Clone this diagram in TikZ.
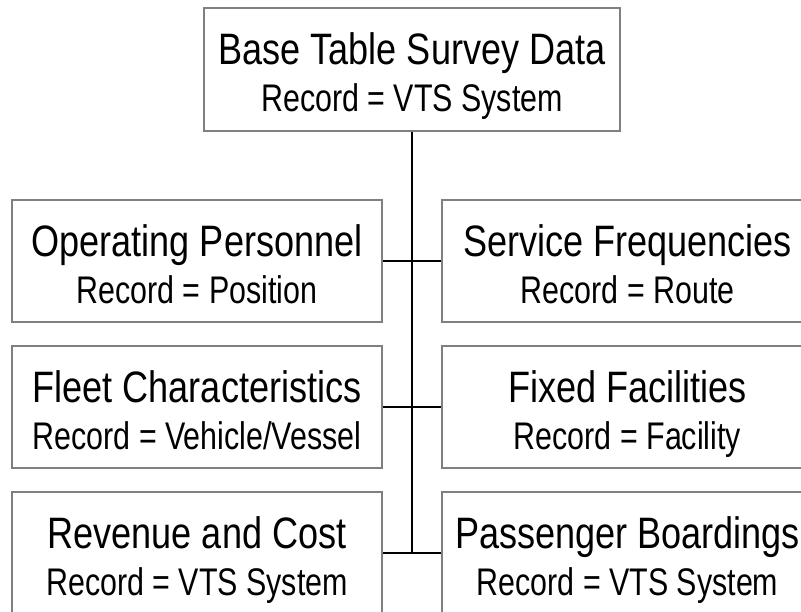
\documentclass[tikz,border=0pt]{standalone}
\usepackage{fontspec}
\setmainfont{Liberation Sans}[FakeStretch=0.82]
\newfontfamily\headfont{Liberation Sans}[FakeStretch=0.82]
\newfontfamily\recfont{Liberation Sans}[FakeStretch=0.79]

% two centred lines: a heading and its record type, with fixed baseline distance
\newcommand\titlesize{\headfont\fontsize{44}{47}\selectfont}
\newcommand\subsize{\recfont\fontsize{38.5}{47}\selectfont}
\newcommand\boxlines[2]{\vbox{\baselineskip=47pt\lineskiplimit=-100pt
  \halign{\hfil##\hfil\cr\titlesize #1\cr\subsize #2\cr}}}

\definecolor{boxgray}{RGB}{128,128,128}

\tikzset{
  tablebox/.style={draw=boxgray, line width=2pt, fill=white, rectangle,
    inner sep=0pt, text height=84pt, text depth=0pt,
    minimum height=122pt},
  sidebox/.style={tablebox, minimum width=370pt},
  link/.style={draw=black, line width=2pt}
}

\begin{document}
\begin{tikzpicture}[x=1pt, y=-1pt]
  \useasboundingbox (0,0) rectangle (801,611);
  \clip (0,0) rectangle (801,611);

  % root table
  \node[tablebox, minimum width=416pt, minimum height=123pt] (base) at (412,69.5)
    {\boxlines{Base Table Survey Data}{Record = VTS System}};

  % left column
  \node[sidebox] (oper) at (197,261)
    {\boxlines{Operating Personnel}{Record = Position}};
  \node[sidebox] (fleet) at (197,407)
    {\boxlines{Fleet Characteristics}{Record = Vehicle/Vessel}};
  \node[sidebox] (rev) at (197,553)
    {\boxlines{Revenue and Cost}{Record = VTS System}};

  % right column
  \node[sidebox, minimum width=371pt] (serv) at (627.5,261)
    {\boxlines{Service Frequencies}{Record = Route}};
  \node[sidebox, minimum width=371pt] (fixed) at (627.5,407)
    {\boxlines{Fixed Facilities}{Record = Facility}};
  \node[sidebox, minimum width=371pt] (pass) at (627.5,553)
    {\boxlines{Passenger Boardings}{Record = VTS System}};

  % trunk and branches
  \coordinate (trunkend) at (base.south |- rev.east);
  \draw[link] (base.south) -- (trunkend);
  \draw[link] (oper.east) -- (serv.west);
  \draw[link] (fleet.east) -- (fixed.west);
  \draw[link] (rev.east) -- (pass.west);
\end{tikzpicture}
\end{document}
